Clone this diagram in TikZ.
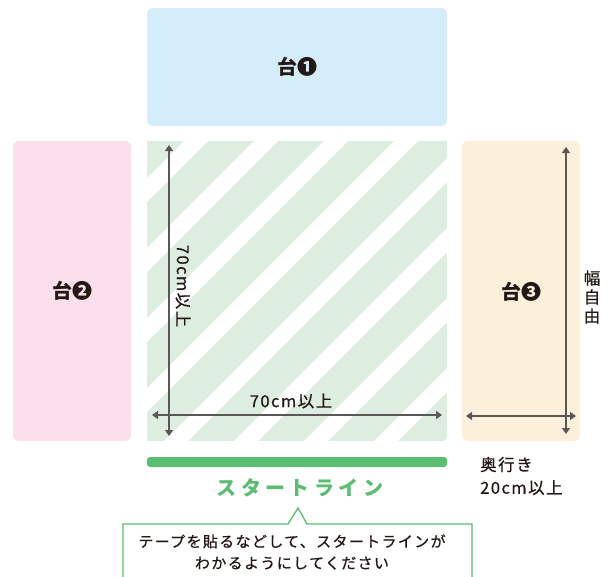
\documentclass[tikz,border=0pt]{standalone}
\usepackage{fontspec}
\setmainfont{Noto Sans CJK JP}
\newfontfamily\jpm[FakeBold=0.6]{Noto Sans CJK JP}
\usetikzlibrary{arrows.meta}
\definecolor{tblblue}{HTML}{D5EDFA}
\definecolor{tblpink}{HTML}{FBDFEA}
\definecolor{tblcream}{HTML}{FDF0DA}
\definecolor{sqgreen}{HTML}{DDEEE0}
\definecolor{linegreen}{HTML}{5BBD72}
\definecolor{arrowgray}{HTML}{595757}
\definecolor{ink}{HTML}{231815}
\tikzset{
  tbl/.style={rounded corners=6pt, draw=none},
  lbl/.style={font=\fontsize{20}{22}\selectfont\bfseries, text=ink, inner sep=0pt},
  dim/.style={draw=arrowgray, line width=1.4pt, {Triangle[width=8pt,length=6pt]}-{Triangle[width=8pt,length=6pt]}},
  dimtxt/.style={font=\jpm\fontsize{16.5}{19}\selectfont\addfontfeature{LetterSpace=9}, text=ink, inner sep=0pt},
}
\begin{document}
\begin{tikzpicture}[x=1pt,y=-1pt]
\useasboundingbox (0,0) rectangle (612,576);
\clip (0,0) rectangle (612,576);
% tables
\fill[tbl, tblblue] (147,8) rectangle (447,126);
\fill[tbl, tblpink] (13,141) rectangle (131,441);
\fill[tbl, tblcream] (462,141) rectangle (580,441);
\node[lbl] (t1) at (297,67) {台❶};
\node[lbl] (t2) at (72,291) {台❷};
\node[lbl] (t3) at (521,292) {台❸};
% striped square
\begin{scope}
  \clip (147,141) rectangle (447,441);
  \fill[sqgreen] (147,141) rectangle (447,441);
  \foreach \k in {-1,...,8}{
    \pgfmathsetmacro{\m}{337+70*\k}
    \draw[white, line width=16.97pt] (\m-100,100) -- (\m-500,500);
  }
\end{scope}
% dimension arrows in square
\coordinate (vtop) at (169,145);
\coordinate (vbot) at (169,436);
\coordinate (hl) at (152,415);
\coordinate (hr) at (442,415);
\draw[dim] (vtop) -- (vbot);
\draw[dim] (hl) -- (hr);
\node[dimtxt, rotate=-90] (v70) at (183,286) {70cm以上};
\node[dimtxt] (h70) at (291,401) {70cm以上};
% table 3 arrows
\coordinate (wtop) at (566,147);
\coordinate (wbot) at (566,434);
\coordinate (dl) at (466,416);
\coordinate (dr) at (576,416);
\draw[dim] (wtop) -- (wbot);
\draw[dim] (dl) -- (dr);
\node[dimtxt, align=center] (haba) at (592,297) {幅\\[0pt]自\\[0pt]由};
\node[dimtxt, anchor=west, align=left] (oku) at (480,476) {奥行き\\[4pt]20cm以上};
% start line
\fill[linegreen, rounded corners=3pt] (147,457) rectangle (447,467);
\node[font=\fontsize{20}{22}\selectfont\bfseries\addfontfeature{LetterSpace=22}, text=linegreen, inner sep=0pt] (start) at (300,488) {スタートライン};
% callout
\draw[linegreen, line width=1.3pt, fill=white] (123,590) -- (123,524) -- (288,524) -- (298,508) -- (307,524) -- (472,524) -- (472,590);
\node[font=\jpm\fontsize{15}{21.5}\selectfont\addfontfeature{LetterSpace=9}, text=ink, align=center, inner sep=0pt] (note) at (292,552) {テープを貼るなどして、スタートラインが\\わかるようにしてください};
\end{tikzpicture}
\end{document}
